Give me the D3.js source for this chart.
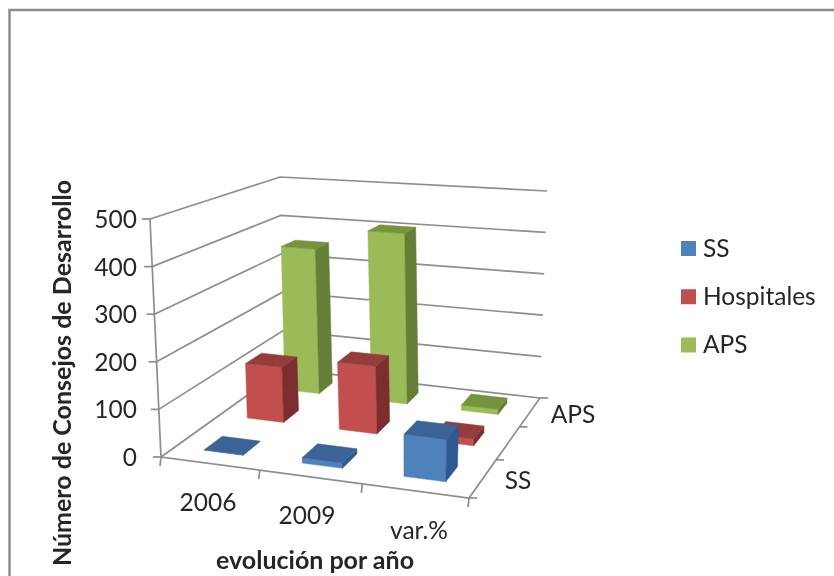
<!DOCTYPE html>
<html>
<head>
<meta charset="utf-8">
<script src="https://cdn.jsdelivr.net/npm/d3@7"></script>
<style>
html, body { margin: 0; padding: 0; background: #fff; overflow: hidden; }
text { font-family: Lato, "Open Sans", sans-serif; fill: #262626; }
</style>
</head>
<body>
<script>
var categories = ["2006", "2009", "var.%"];
var seriesNames = ["SS", "Hospitales", "APS"];
var depthLabels = ["SS", "", "APS"];
var ssValues = [1, 11, 86];
var hospitalesValues = [125, 150, 15];
var apsValues = [352, 405, 12];
var yTicks = [0, 100, 200, 300, 400, 500];

var width = 834, height = 576;

var frontColors = ["#4f81bd", "#c0504d", "#9bbb59"],
    sideColors = ["#2f5a8f", "#7c2f2d", "#667f38"],
    topColors = ["#3a6396", "#943c3a", "#76933c"];
var gridColor = "#8e8e8e";

var svg = d3.select("body").append("svg")
    .attr("width", width)
    .attr("height", height)
;

var defs = svg.append("defs");
defs.append("filter").attr("id", "soft")
    .attr("filterUnits", "userSpaceOnUse")
    .attr("x", 0).attr("y", 0).attr("width", width).attr("height", height)
    .append("feGaussianBlur").attr("stdDeviation", 0.45);

var root = svg.append("g").attr("filter", "url(#soft)");

// frame
root.append("rect")
    .attr("x", 9.5).attr("y", 10)
    .attr("width", 1000).attr("height", 1000)
    .attr("fill", "none")
    .attr("stroke", "#8c8c8c")
    .attr("stroke-width", 2.5)
;

// corners of the floor and of the top plane: front-left, front-right, back-right, back-left
var floorQuad = [[161, 457], [469, 498], [540, 398], [284, 369]];
var topQuad = [[150, 219], [480, 245], [547, 191], [280, 177]];

// unit square -> quad
function homography(q) {
    var dx1 = q[1][0] - q[2][0], dx2 = q[3][0] - q[2][0], sx = q[0][0] - q[1][0] + q[2][0] - q[3][0],
        dy1 = q[1][1] - q[2][1], dy2 = q[3][1] - q[2][1], sy = q[0][1] - q[1][1] + q[2][1] - q[3][1],
        den = dx1 * dy2 - dx2 * dy1,
        g = (sx * dy2 - dx2 * sy) / den,
        h = (dx1 * sy - sx * dy1) / den,
        a = q[1][0] - q[0][0] + g * q[1][0],
        b = q[3][0] - q[0][0] + h * q[3][0],
        d = q[1][1] - q[0][1] + g * q[1][1],
        e = q[3][1] - q[0][1] + h * q[3][1];
    return function (u, v) {
        var w = g * u + h * v + 1;
        return [(a * u + b * v + q[0][0]) / w, (d * u + e * v + q[0][1]) / w];
    };
}

var floorAt = homography(floorQuad),
    topAt = homography(topQuad);

var xScale = d3.scaleBand().domain(categories).range([0, 1]).paddingInner(0.6).paddingOuter(0.3);
var zScale = d3.scaleBand().domain(seriesNames).range([0, 1]).paddingInner(0.6).paddingOuter(0.3);
var yScale = d3.scaleLinear().domain([0, 500]).range([0, 1]);

function project(u, v, value) {
    var a = floorAt(u, v), b = topAt(u, v), t = yScale(value);
    return [a[0] + (b[0] - a[0]) * t, a[1] + (b[1] - a[1]) * t];
}

var line = d3.line();

// walls
root.selectAll(".grid")
    .data(yTicks)
    .join("path")
    .attr("class", "grid")
    .attr("fill", "none")
    .attr("stroke", gridColor)
    .attr("stroke-width", 1.7)
    .attr("d", function (d) { return line([project(0, 0, d), project(0, 1, d), project(1, 1, d)]); })
;

// floor edges + vertical axis
root.append("path")
    .attr("fill", "none")
    .attr("stroke", gridColor)
    .attr("stroke-width", 1.7)
    .attr("d", line([project(0, 0, 500), project(0, 0, 0), project(1, 0, 0), project(1, 1, 0)]))
;

// y ticks
root.selectAll(".ytick")
    .data(yTicks)
    .join("path")
    .attr("class", "ytick")
    .attr("stroke", gridColor)
    .attr("stroke-width", 1.7)
    .attr("d", function (d) {
        var p = project(0, 0, d);
        return line([[p[0] - 8, p[1]], p]);
    })
;
root.selectAll(".ylabel")
    .data(yTicks)
    .join("text")
    .attr("class", "ylabel")
    .attr("x", 137)
    .attr("y", function (d) { return project(0, 0, d)[1] + 9; })
    .attr("text-anchor", "end")
    .attr("font-size", 24.5)
    .text(function (d) { return d; })
;

// x ticks, at the category boundaries
root.selectAll(".xtick")
    .data(d3.range(categories.length + 1))
    .join("path")
    .attr("class", "xtick")
    .attr("stroke", gridColor)
    .attr("stroke-width", 1.7)
    .attr("d", function (i) {
        var p = project(i / categories.length, 0, 0);
        return line([p, [p[0] - 1, p[1] + 9]]);
    })
;

// depth ticks
root.selectAll(".ztick")
    .data(d3.range(seriesNames.length + 1))
    .join("path")
    .attr("class", "ztick")
    .attr("stroke", gridColor)
    .attr("stroke-width", 1.7)
    .attr("d", function (i) {
        var p = project(1, i / seriesNames.length, 0);
        return line([p, [p[0] + 8, p[1]]]);
    })
;

// bars, back row first
var allValues = [ssValues, hospitalesValues, apsValues];
var bars = [];
d3.range(seriesNames.length).reverse().forEach(function (j) {
    categories.forEach(function (c, i) {
        bars.push({ category: c, series: seriesNames[j], j: j, value: allValues[j][i] });
    });
});

function faces(d) {
    var u0 = xScale(d.category), u1 = u0 + xScale.bandwidth(),
        v0 = zScale(d.series), v1 = v0 + zScale.bandwidth();
    return [
        { fill: frontColors[d.j], pts: [project(u0, v0, 0), project(u1, v0, 0), project(u1, v0, d.value), project(u0, v0, d.value)] },
        { fill: sideColors[d.j], pts: [project(u1, v0, 0), project(u1, v1, 0), project(u1, v1, d.value), project(u1, v0, d.value)] },
        { fill: topColors[d.j], pts: [project(u0, v0, d.value), project(u1, v0, d.value), project(u1, v1, d.value), project(u0, v1, d.value)] }
    ];
}

root.selectAll(".bar")
    .data(bars)
    .join("g")
    .attr("class", "bar")
    .selectAll("path")
    .data(faces)
    .join("path")
    .attr("fill", function (f) { return f.fill; })
    .attr("stroke", function (f) { return f.fill; })
    .attr("stroke-width", 0.5)
    .attr("d", function (f) { return line(f.pts) + "Z"; })
;

// category labels
var catLabelX = [208, 307, 419], catLabelY = [511, 524, 539];
root.selectAll(".xlabel")
    .data(categories)
    .join("text")
    .attr("class", "xlabel")
    .attr("x", function (d, i) { return catLabelX[i]; })
    .attr("y", function (d, i) { return catLabelY[i]; })
    .attr("text-anchor", "middle")
    .attr("font-size", 24.5)
    .text(function (d) { return d; })
;

// depth labels
var depthLabelX = [518, 0, 573], depthLabelY = [489, 0, 423];
root.selectAll(".zlabel")
    .data(depthLabels)
    .join("text")
    .attr("class", "zlabel")
    .attr("x", function (d, i) { return depthLabelX[i]; })
    .attr("y", function (d, i) { return depthLabelY[i]; })
    .attr("text-anchor", "middle")
    .attr("font-size", 24.5)
    .text(function (d) { return d; })
;

// axis titles
root.append("text")
    .attr("x", 315).attr("y", 569)
    .attr("text-anchor", "middle")
    .attr("font-size", 25)
    .attr("font-weight", 700)
    .text("evolución por año")
;
root.append("text")
    .attr("transform", "translate(71,373) rotate(-90)")
    .attr("text-anchor", "middle")
    .attr("font-size", 25)
    .attr("font-weight", 700)
    .text("Número de Consejos de Desarrollo")
;

// legend
var legendY = d3.scalePoint().domain(seriesNames).range([248.5, 345]);
var legend = root.selectAll(".legend")
    .data(seriesNames)
    .join("g")
    .attr("class", "legend")
    .attr("transform", function (d) { return `translate(681,${legendY(d)})`; })
;
legend.append("rect")
    .attr("x", 0).attr("y", -7.5)
    .attr("width", 15).attr("height", 15)
    .attr("fill", function (d, i) { return frontColors[i]; })
;
legend.append("text")
    .attr("x", 22).attr("y", 8)
    .attr("font-size", 24.5)
    .text(function (d) { return d; })
;
</script>
</body>
</html>
